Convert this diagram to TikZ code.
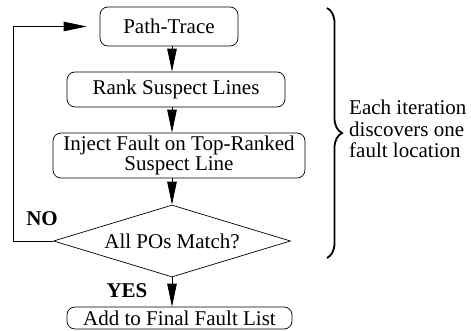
\documentclass[tikz,border=0pt]{standalone}
\usepackage{fontspec}
\setmainfont{Liberation Serif}
\usetikzlibrary{arrows.meta,shapes.geometric,decorations.pathreplacing}
\begin{document}
\begin{tikzpicture}[x=1pt,y=-1pt,
  every node/.style={font=\fontsize{21}{20}\selectfont, inner sep=0pt},
  procbox/.style={draw, line width=0.7pt, rounded corners=8pt, align=center},
  decide/.style={draw, line width=0.7pt, shape=diamond, aspect=3.29, minimum width=237pt, minimum height=72pt},
  arr/.style={-{Triangle[length=23pt,width=9.5pt]}, line width=0.8pt},
  lbl/.style={font=\fontsize{21}{20}\selectfont\bfseries}]
\useasboundingbox (0,0) rectangle (471,331);
\node[procbox, minimum width=138pt, minimum height=39pt] (pt) at (169,26.5) {Path-Trace};
\node[procbox, minimum width=218pt, minimum height=35pt] (rk) at (176,89.5) {Rank Suspect Lines};
\node[procbox, minimum width=252pt, minimum height=45pt] (inj) at (179,155.5) {Inject Fault on Top-Ranked\\Suspect Line};
\node[decide] (dm) at (172,241) {All POs Match?};
\node[procbox, minimum width=225pt, minimum height=22pt] (fin) at (179.5,318) {Add to Final Fault List};
\draw[arr] (pt.south -| dm.north) -- (rk.north -| dm.north);
\draw[arr] (rk.south -| dm.north) -- (inj.north -| dm.north);
\draw[arr] (inj.south -| dm.north) -- (dm.north);
\draw[arr] (dm.south) -- (fin.north -| dm.south);
\draw[arr, shorten >=13pt] (dm.west) -- ++(-40,0) |- (pt.west);
\node[lbl] (no) at (42,219) {NO};
\node[lbl] (yes) at (127,291) {YES};
\coordinate (b1) at (327,8);
\coordinate (b2) at (327,258);
\draw[line width=1.8pt, decorate, decoration={brace, amplitude=15pt}] (b1) -- (b2);
\node[align=left, anchor=west, font=\fontsize{21}{21.5}\selectfont] (note) at (349,129) {Each iteration\\discovers one\\fault location};
\end{tikzpicture}
\end{document}
